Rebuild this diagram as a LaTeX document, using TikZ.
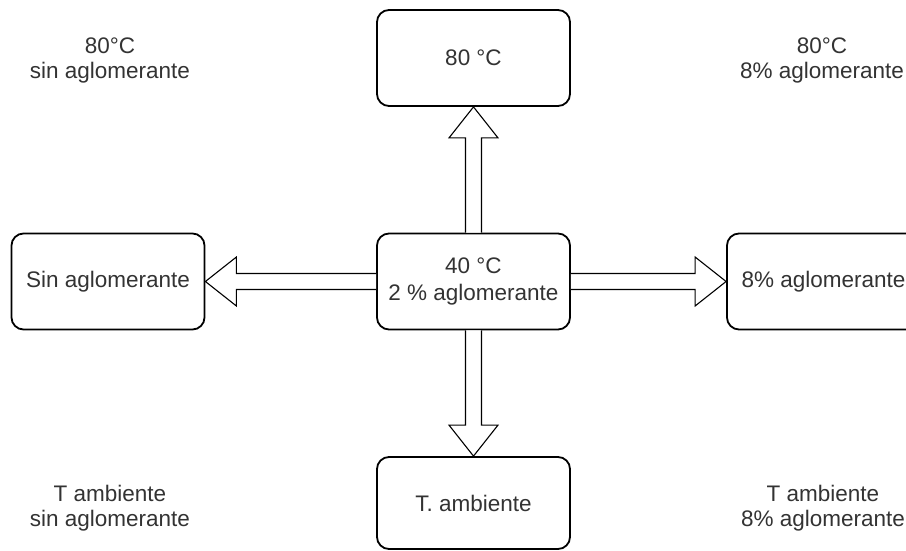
\documentclass[tikz,border=0pt]{standalone}
\usepackage{fontspec}
\setmainfont{Liberation Sans}
\usetikzlibrary{calc}
\definecolor{txt}{HTML}{333333}
\tikzset{
  box/.style={draw=black, line width=1.8pt, rounded corners=12pt, minimum width=193pt, minimum height=96pt, inner sep=0pt, align=center, text=txt, font=\fontsize{22.5}{27}\selectfont},
  lbl/.style={align=center, text=txt, inner sep=0pt, font=\fontsize{22.5}{25}\selectfont},
  blockarrow/.style={draw=black, line width=1.1pt, fill=white, line join=miter}
}
\begin{document}
\begin{tikzpicture}[x=1pt,y=1pt]
\useasboundingbox (0,0) rectangle (906,-551);
\clip (0,0) rectangle (906,-551);
\fill[white] (0,0) rectangle (906,-551);
% boxes
\node[box] (t) at (473.5,-58) {80 °C};
\node[box] (c) at (473.5,-281.5) {40 °C\\2 \% aglomerante};
\node[box] (l) at (108,-281.5) {Sin aglomerante};
\node[box] (r) at (823.5,-281.5) {8\% aglomerante};
\node[box, minimum height=92pt] (b) at (473.5,-503) {T. ambiente};
% corner labels
\node[lbl] (tl) at (110,-60) {80°C\\sin aglomerante};
\node[lbl] (tr) at (822,-60) {80°C\\8\% aglomerante};
\node[lbl] (bl) at (110,-508) {T ambiente\\sin aglomerante};
\node[lbl] (br) at (823,-508) {T ambiente\\8\% aglomerante};
% block arrows
\draw[blockarrow] ($(c.north)+(-8,0)$) -- ($(t.south)+(-8,-31)$) -- ($(t.south)+(-24.5,-31)$) -- (t.south) -- ($(t.south)+(24.5,-31)$) -- ($(t.south)+(8,-31)$) -- ($(c.north)+(8,0)$);
\draw[blockarrow] ($(c.south)+(-8,0)$) -- ($(b.north)+(-8,31)$) -- ($(b.north)+(-24.5,31)$) -- (b.north) -- ($(b.north)+(24.5,31)$) -- ($(b.north)+(8,31)$) -- ($(c.south)+(8,0)$);
\draw[blockarrow] ($(c.west)+(0,8)$) -- ($(l.east)+(31,8)$) -- ($(l.east)+(31,24.5)$) -- (l.east) -- ($(l.east)+(31,-24.5)$) -- ($(l.east)+(31,-8)$) -- ($(c.west)+(0,-8)$);
\draw[blockarrow] ($(c.east)+(0,8)$) -- ($(r.west)+(-31,8)$) -- ($(r.west)+(-31,24.5)$) -- (r.west) -- ($(r.west)+(-31,-24.5)$) -- ($(r.west)+(-31,-8)$) -- ($(c.east)+(0,-8)$);
\end{tikzpicture}
\end{document}
